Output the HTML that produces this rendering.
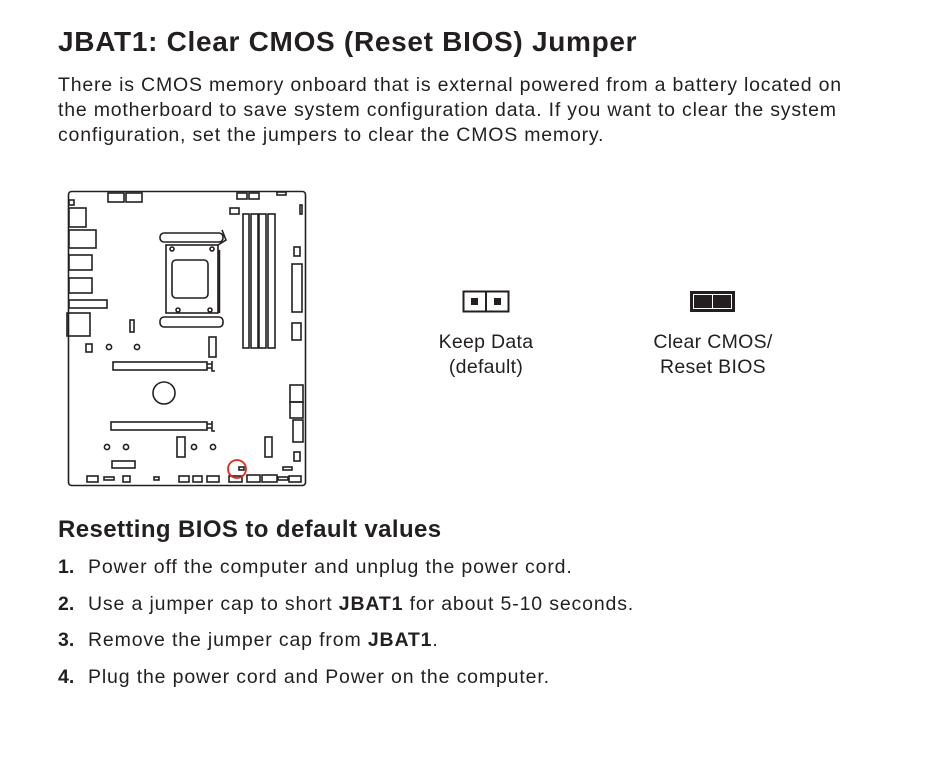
<!DOCTYPE html>
<html><head><meta charset="utf-8"><style>
body{margin:0;width:946px;height:757px;background:#fff;position:relative;font-family:"Liberation Sans",sans-serif;color:#231f20;overflow:hidden}
.t{position:absolute;white-space:nowrap}
h1{position:absolute;left:58px;top:26px;margin:0;font-size:28px;font-weight:bold;letter-spacing:0.7px}
.p{left:58px;font-size:19.5px;letter-spacing:0.8px}
h2{position:absolute;left:58px;top:516px;margin:0;font-size:24px;font-weight:bold;letter-spacing:0.4px}
.li{left:58px;font-size:19.5px;letter-spacing:0.85px}
.li b.n{display:inline-block;width:30px;letter-spacing:0}
.c{font-size:19.5px;text-align:center;width:200px;letter-spacing:0.3px}
</style></head><body>
<h1>JBAT1: Clear CMOS (Reset BIOS) Jumper</h1>
<div class="t p" style="top:74px">There is CMOS memory onboard that is external powered from a battery located on</div>
<div class="t p" style="top:99px">the motherboard to save system configuration data. If you want to clear the system</div>
<div class="t p" style="top:124px">configuration, set the jumpers to clear the CMOS memory.</div>

<svg style="position:absolute;left:0;top:0" width="946" height="757">
<g fill="none" stroke="#231f20" stroke-width="1.6">
<rect x="68.5" y="191.5" width="237" height="294" rx="3"/>
<rect x="108" y="193" width="16" height="9"/><rect x="126" y="193" width="16" height="9"/>
<rect x="237" y="193" width="10" height="6"/><rect x="249" y="193" width="10" height="6"/>
<rect x="277" y="192" width="9" height="3"/>
<rect x="69" y="200" width="5" height="5"/>
<rect x="69" y="208" width="17" height="19"/><rect x="69" y="230" width="27" height="18"/>
<rect x="69" y="255" width="23" height="15"/><rect x="69" y="278" width="23" height="15"/>
<rect x="69" y="300" width="38" height="8"/><rect x="67" y="313" width="23" height="23"/>
<rect x="230" y="208" width="9" height="6"/>
<rect x="243" y="214" width="6" height="134"/><rect x="251" y="214" width="7" height="134"/>
<rect x="259" y="214" width="7" height="134"/><rect x="268" y="214" width="7" height="134"/>
<rect x="300" y="205" width="2" height="9"/>
<rect x="294" y="247" width="6" height="9"/><rect x="292" y="264" width="10" height="48"/>
<rect x="292" y="323" width="9" height="17"/>
<rect x="160" y="233" width="63" height="9" rx="4"/><rect x="160" y="317" width="63" height="10" rx="4"/>
<rect x="166" y="245" width="52" height="68"/><rect x="172" y="260" width="36" height="38" rx="4"/>
<path d="M218 245 L226 240 L222 230"/><line x1="219" y1="250" x2="219" y2="313" stroke-width="2.5"/>
<circle cx="172" cy="249" r="2"/><circle cx="212" cy="249" r="2"/><circle cx="178" cy="310" r="2"/><circle cx="210" cy="310" r="2"/>
<rect x="130" y="320" width="4" height="12"/>
<rect x="86" y="344" width="6" height="8"/><circle cx="109" cy="347" r="2.6"/><circle cx="137" cy="347" r="2.6"/>
<rect x="209" y="337" width="7" height="20"/>
<rect x="113" y="362" width="94" height="8"/><path d="M207 364h5M207 368h5M212 361v10h3"/>
<circle cx="164" cy="393" r="11"/>
<rect x="290" y="385" width="13" height="17"/><rect x="290" y="402" width="13" height="16"/><rect x="293" y="420" width="10" height="22"/>
<rect x="111" y="422" width="96" height="8"/><path d="M207 424h5M207 428h5M212 421v10h3"/>
<circle cx="107" cy="447" r="2.6"/><circle cx="126" cy="447" r="2.6"/>
<rect x="177" y="437" width="8" height="20"/>
<circle cx="194" cy="447" r="2.6"/><circle cx="213" cy="447" r="2.6"/>
<rect x="265" y="437" width="7" height="20"/>
<rect x="112" y="461" width="23" height="7"/>
<rect x="294" y="452" width="6" height="9"/>
<rect x="239" y="467" width="5" height="3"/>
<rect x="283" y="467" width="9" height="3"/>
<rect x="87" y="476" width="11" height="6"/><rect x="104" y="477" width="10" height="3"/>
<rect x="123" y="476" width="7" height="6"/><rect x="154" y="477" width="5" height="3"/>
<rect x="179" y="476" width="10" height="6"/><rect x="193" y="476" width="9" height="6"/>
<rect x="207" y="476" width="12" height="6"/><rect x="229" y="476" width="13" height="6"/>
<rect x="247" y="475" width="13" height="7"/><rect x="262" y="475" width="15" height="7"/>
<rect x="278" y="477" width="10" height="3"/><rect x="289" y="476" width="12" height="6"/>
</g>
<circle cx="237" cy="469" r="9" fill="none" stroke="#e8261c" stroke-width="1.8"/>
<rect x="463.5" y="291.5" width="45" height="20" fill="#fff" stroke="#231f20" stroke-width="2"/>
<line x1="486" y1="291" x2="486" y2="312" stroke="#231f20" stroke-width="2"/>
<rect x="471" y="298" width="7" height="7" fill="#231f20"/><rect x="494" y="298" width="7" height="7" fill="#231f20"/>
<rect x="690" y="291" width="45" height="21" fill="#231f20"/>
<rect x="693.5" y="294.5" width="38" height="14" fill="none" stroke="#fff" stroke-width="1"/>
<line x1="712.5" y1="294" x2="712.5" y2="309" stroke="#fff" stroke-width="1"/>
</svg>

<div class="t c" style="left:386px;top:331px">Keep Data</div>
<div class="t c" style="left:386px;top:356px">(default)</div>
<div class="t c" style="left:613px;top:331px">Clear CMOS/</div>
<div class="t c" style="left:613px;top:356px">Reset BIOS</div>

<h2>Resetting BIOS to default values</h2>
<div class="t li" style="top:556px"><b class="n">1.</b>Power off the computer and unplug the power cord.</div>
<div class="t li" style="top:593px"><b class="n">2.</b>Use a jumper cap to short <b>JBAT1</b> for about 5-10 seconds.</div>
<div class="t li" style="top:629px"><b class="n">3.</b>Remove the jumper cap from <b>JBAT1</b>.</div>
<div class="t li" style="top:666px"><b class="n">4.</b>Plug the power cord and Power on the computer.</div>
</body></html>
